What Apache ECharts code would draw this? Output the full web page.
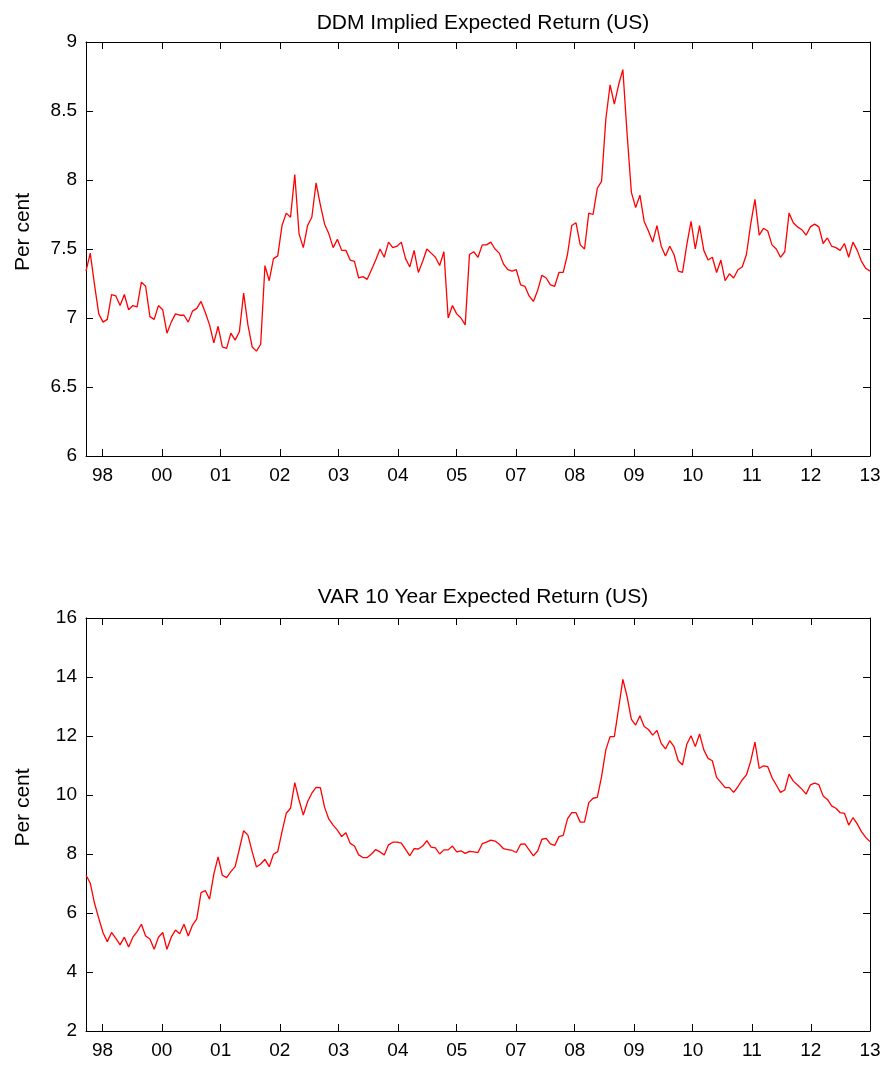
<!DOCTYPE html>
<html>
<head>
<meta charset="utf-8">
<script src="https://cdn.jsdelivr.net/npm/echarts@6/dist/echarts.min.js"></script>
<style>
html,body{margin:0;padding:0;background:#fff;}
#chart{width:888px;height:1066px;}
</style>
</head>
<body>
<div id="chart"></div>
<script>
// Monthly observations (index 0 .. 184)
const tickLabels = ['98','00','01','02','03','04','05','07','08','09','10','11','12','13'];
const tickPos = [3.9, 17.8, 31.6, 45.5, 59.3, 73.2, 87.0, 100.9, 114.7, 128.6, 142.4, 156.3, 170.1, 184];

const ddmReturn = [
7.34,7.47,7.24,7.03,6.97,6.99,7.17,7.16,7.09,7.17,
7.06,7.09,7.08,7.26,7.23,7.01,6.99,7.09,7.06,6.89,
6.97,7.03,7.02,7.02,6.97,7.05,7.07,7.12,7.04,6.95,
6.82,6.94,6.79,6.78,6.89,6.84,6.90,7.18,6.95,6.79,
6.76,6.81,7.38,7.27,7.43,7.45,7.67,7.76,7.73,8.04,
7.61,7.51,7.67,7.73,7.98,7.82,7.68,7.61,7.51,7.57,
7.49,7.49,7.42,7.41,7.29,7.30,7.28,7.35,7.42,7.50,
7.44,7.55,7.51,7.52,7.55,7.43,7.37,7.49,7.33,7.41,
7.50,7.47,7.44,7.38,7.48,7.00,7.09,7.03,7.00,6.95,
7.46,7.48,7.44,7.53,7.53,7.55,7.50,7.47,7.39,7.35,
7.34,7.35,7.24,7.23,7.16,7.12,7.20,7.31,7.29,7.24,
7.23,7.33,7.33,7.46,7.67,7.69,7.53,7.50,7.76,7.75,
7.94,7.99,8.44,8.69,8.55,8.69,8.80,8.33,7.91,7.80,
7.89,7.70,7.63,7.55,7.67,7.52,7.45,7.52,7.46,7.34,
7.33,7.53,7.70,7.50,7.67,7.49,7.42,7.44,7.33,7.42,
7.27,7.32,7.29,7.35,7.37,7.46,7.68,7.86,7.60,7.65,
7.63,7.53,7.50,7.44,7.48,7.76,7.69,7.66,7.64,7.60,
7.66,7.68,7.66,7.54,7.58,7.52,7.51,7.49,7.54,7.44,
7.55,7.49,7.41,7.36,7.34
];

const varReturn = [
7.29,7.01,6.33,5.82,5.33,5.03,5.34,5.14,4.92,5.18,
4.85,5.18,5.37,5.62,5.22,5.12,4.77,5.18,5.34,4.77,
5.18,5.42,5.30,5.62,5.22,5.59,5.80,6.69,6.76,6.47,
7.32,7.90,7.28,7.20,7.40,7.57,8.17,8.79,8.64,8.08,
7.56,7.66,7.82,7.57,7.99,8.08,8.76,9.38,9.55,10.42,
9.83,9.32,9.77,10.06,10.26,10.25,9.58,9.18,8.98,8.81,
8.59,8.72,8.36,8.27,7.97,7.88,7.88,8.00,8.15,8.07,
7.97,8.31,8.40,8.40,8.37,8.16,7.94,8.18,8.17,8.27,
8.45,8.23,8.21,8.00,8.14,8.14,8.27,8.07,8.11,8.02,
8.09,8.07,8.05,8.35,8.40,8.47,8.44,8.33,8.18,8.15,
8.12,8.05,8.33,8.34,8.14,7.94,8.10,8.50,8.53,8.34,
8.29,8.59,8.63,9.19,9.40,9.40,9.08,9.08,9.74,9.89,
9.92,10.62,11.53,11.98,11.98,12.94,13.92,13.33,12.56,12.37,
12.69,12.32,12.22,12.03,12.19,11.75,11.56,11.84,11.64,11.16,
11.02,11.72,12.01,11.64,12.07,11.53,11.24,11.16,10.60,10.43,
10.25,10.25,10.09,10.28,10.51,10.68,11.15,11.79,10.90,10.99,
10.96,10.59,10.34,10.09,10.17,10.71,10.47,10.34,10.20,10.03,
10.34,10.40,10.35,9.97,9.85,9.63,9.55,9.40,9.38,8.98,
9.23,9.02,8.76,8.56,8.42
];

const FONT = '"Liberation Sans", Arial, sans-serif';
const lastIdx = ddmReturn.length - 1;

function xAxes(gridIndex) {
  const common = {
    gridIndex: gridIndex,
    type: 'value',
    min: 0,
    max: lastIdx,
    splitLine: { show: false },
    axisLine: { show: true, onZero: false, lineStyle: { color: '#000', width: 1 } },
    axisTick: { show: true, inside: true, length: 7, customValues: tickPos, lineStyle: { color: '#000', width: 1 } }
  };
  return [
    Object.assign({}, common, {
      position: 'bottom',
      axisLabel: {
        show: true, customValues: tickPos, margin: 10,
        color: '#000', fontSize: 19, fontFamily: FONT,
        formatter: function (v) {
          let best = 0;
          for (let i = 1; i < tickPos.length; i++) {
            if (Math.abs(tickPos[i] - v) < Math.abs(tickPos[best] - v)) best = i;
          }
          return tickLabels[best];
        }
      }
    }),
    Object.assign({}, common, { position: 'top', axisLabel: { show: false } })
  ];
}

function yAxes(gridIndex, min, max, interval) {
  const common = {
    gridIndex: gridIndex,
    type: 'value',
    min: min, max: max, interval: interval,
    splitLine: { show: false },
    axisLine: { show: true, onZero: false, lineStyle: { color: '#000', width: 1 } },
    axisTick: { show: true, inside: true, length: 7, lineStyle: { color: '#000', width: 1 } }
  };
  return [
    Object.assign({}, common, {
      position: 'left',
      name: 'Per cent',
      nameLocation: 'middle',
      nameGap: 52,
      nameTextStyle: { color: '#000', fontSize: 21, fontFamily: FONT, padding: [0, 0, 0, 34] },
      axisLabel: { show: true, margin: 9, color: '#000', fontSize: 19, fontFamily: FONT }
    }),
    Object.assign({}, common, { position: 'right', axisLabel: { show: false } })
  ];
}

const chart = echarts.init(document.getElementById('chart'), null, { renderer: 'canvas' });
chart.setOption({
  backgroundColor: '#fff',
  animation: false,
  title: [
    { text: 'DDM Implied Expected Return (US)', left: 478, top: 8, textAlign: 'center',
      textStyle: { color: '#000', fontSize: 21, fontWeight: 'normal', fontFamily: FONT } },
    { text: 'VAR 10 Year Expected Return (US)', left: 478, top: 582, textAlign: 'center',
      textStyle: { color: '#000', fontSize: 21, fontWeight: 'normal', fontFamily: FONT } }
  ],
  grid: [
    { left: 86, right: 18, top: 42, height: 414 },
    { left: 86, right: 18, top: 618, height: 413 }
  ],
  xAxis: xAxes(0).concat(xAxes(1)),
  yAxis: yAxes(0, 6, 9, 0.5).concat(yAxes(1, 2, 16, 2)),
  series: [
    { type: 'line', xAxisIndex: 0, yAxisIndex: 0, showSymbol: false, symbol: 'none',
      lineStyle: { color: '#ff0000', width: 1.3 },
      data: ddmReturn.map(function (v, i) { return [i, v]; }) },
    { type: 'line', xAxisIndex: 2, yAxisIndex: 2, showSymbol: false, symbol: 'none',
      lineStyle: { color: '#ff0000', width: 1.3 },
      data: varReturn.map(function (v, i) { return [i, v]; }) }
  ]
});
</script>
</body>
</html>
